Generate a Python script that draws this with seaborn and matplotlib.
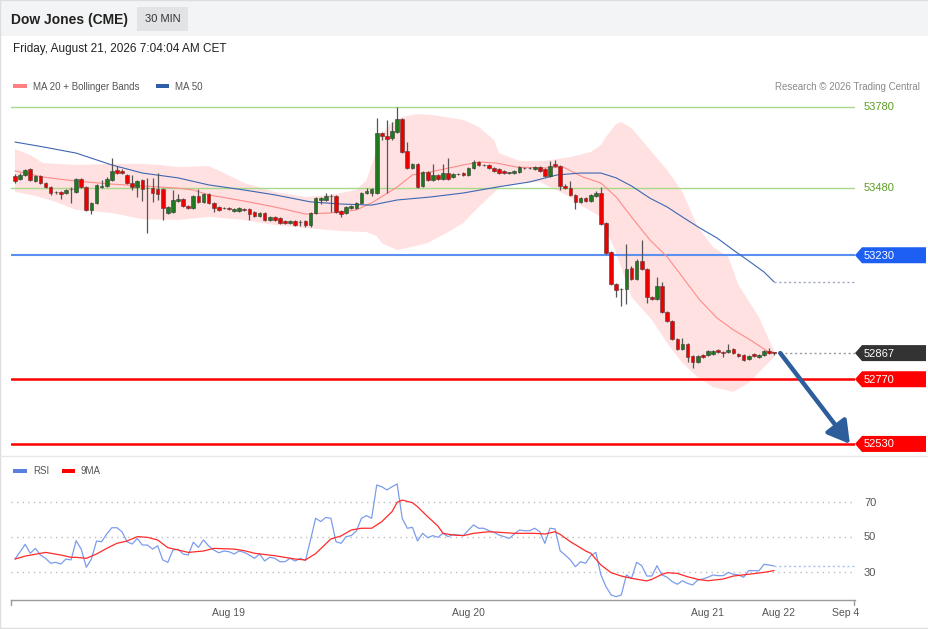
import numpy as np
import pandas as pd
import matplotlib
matplotlib.use("Agg")
import matplotlib.pyplot as plt
import seaborn as sns
from matplotlib.patches import Polygon, Rectangle, FancyArrowPatch
from matplotlib.lines import Line2D

# ---------------- data ----------------
opens = [53524, 53513, 53528, 53550, 53505, 53524, 53498, 53483, 53465, 53465,
         53461, 53476, 53465, 53513, 53483, 53398, 53424, 53485, 53487, 53509,
         53546, 53543, 53528, 53498, 53483, 53509, 53479, 53479, 53476, 53476,
         53387, 53390, 53431, 53439, 53413, 53405, 53450, 53428, 53457, 53424,
         53409, 53405, 53405, 53394, 53394, 53402, 53402, 53390, 53376, 53387,
         53361, 53372, 53368, 53357, 53350, 53357, 53354, 53357, 53342, 53387,
         53435, 53435, 53450, 53450, 53394, 53387, 53405, 53405, 53424, 53461,
         53461, 53461, 53684, 53672, 53665, 53687, 53735, 53617, 53554, 53569,
         53487, 53539, 53509, 53528, 53513, 53535, 53520, 53531, 53535, 53528,
         53554, 53576, 53565, 53565, 53554, 53550, 53543, 53535, 53535, 53539,
         53554, 53552, 53550, 53557, 53550, 53524, 53569, 53561, 53487, 53479,
         53454, 53428, 53442, 53431, 53450, 53461, 53350, 53242, 53123, 53105,
         53105, 53183, 53142, 53209, 53179, 53075, 53068, 53116, 53019, 52986,
         52919, 52882, 52901, 52856, 52834, 52860, 52860, 52864, 52879, 52871,
         52871, 52882, 52864, 52860, 52845, 52864, 52853, 52860, 52875, 52869]
highs = [53531, 53535, 53550, 53554, 53528, 53528, 53502, 53487, 53468, 53468,
         53476, 53483, 53517, 53517, 53487, 53428, 53494, 53509, 53520, 53591,
         53561, 53550, 53531, 53528, 53509, 53513, 53517, 53517, 53535, 53479,
         53413, 53472, 53457, 53442, 53416, 53454, 53476, 53461, 53461, 53428,
         53413, 53409, 53409, 53405, 53409, 53405, 53405, 53394, 53390, 53390,
         53376, 53376, 53372, 53361, 53361, 53361, 53361, 53361, 53390, 53446,
         53446, 53461, 53457, 53454, 53398, 53413, 53416, 53428, 53465, 53479,
         53479, 53739, 53687, 53732, 53724, 53780, 53739, 53650, 53572, 53572,
         53543, 53543, 53569, 53531, 53569, 53591, 53535, 53535, 53539, 53557,
         53583, 53580, 53569, 53569, 53557, 53554, 53546, 53539, 53546, 53561,
         53557, 53557, 53561, 53561, 53554, 53580, 53583, 53565, 53494, 53505,
         53457, 53446, 53446, 53457, 53468, 53483, 53354, 53246, 53127, 53108,
         53272, 53190, 53216, 53287, 53183, 53079, 53149, 53131, 53023, 52990,
         52923, 52923, 52904, 52860, 52860, 52864, 52879, 52879, 52882, 52875,
         52901, 52886, 52867, 52864, 52860, 52867, 52864, 52879, 52886, 52871]
lows = [53498, 53509, 53524, 53505, 53502, 53494, 53479, 53454, 53457, 53439,
        53457, 53424, 53461, 53479, 53394, 53383, 53420, 53479, 53483, 53505,
        53531, 53531, 53494, 53472, 53446, 53431, 53313, 53428, 53435, 53361,
        53383, 53387, 53428, 53409, 53402, 53402, 53424, 53424, 53420, 53390,
        53394, 53402, 53398, 53390, 53390, 53394, 53361, 53372, 53372, 53357,
        53357, 53357, 53346, 53346, 53346, 53339, 53339, 53335, 53335, 53383,
        53420, 53431, 53390, 53387, 53372, 53383, 53402, 53402, 53420, 53457,
        53450, 53457, 53658, 53461, 53658, 53684, 53609, 53550, 53550, 53479,
        53483, 53505, 53505, 53509, 53509, 53509, 53517, 53528, 53524, 53524,
        53550, 53561, 53561, 53550, 53539, 53531, 53531, 53531, 53531, 53535,
        53550, 53550, 53546, 53539, 53520, 53520, 53557, 53472, 53476, 53450,
        53402, 53424, 53428, 53428, 53446, 53342, 53235, 53120, 53075, 53042,
        53049, 53138, 53138, 53176, 53053, 53064, 53064, 53016, 52982, 52916,
        52879, 52879, 52834, 52812, 52830, 52849, 52856, 52860, 52867, 52853,
        52867, 52864, 52853, 52838, 52842, 52853, 52849, 52856, 52864, 52860]
closes = [53505, 53528, 53546, 53509, 53524, 53498, 53483, 53461, 53463, 53457,
          53472, 53474, 53513, 53483, 53398, 53424, 53491, 53487, 53513, 53543,
          53535, 53535, 53498, 53483, 53505, 53476, 53478, 53461, 53457, 53405,
          53409, 53435, 53439, 53413, 53405, 53450, 53428, 53457, 53424, 53405,
          53398, 53404, 53402, 53402, 53405, 53398, 53383, 53376, 53387, 53361,
          53372, 53361, 53350, 53350, 53357, 53342, 53352, 53342, 53387, 53442,
          53442, 53450, 53448, 53390, 53383, 53409, 53413, 53424, 53461, 53468,
          53476, 53684, 53672, 53661, 53691, 53735, 53613, 53554, 53569, 53483,
          53539, 53509, 53528, 53513, 53535, 53513, 53531, 53530, 53528, 53554,
          53576, 53565, 53563, 53554, 53543, 53535, 53535, 53537, 53543, 53557,
          53552, 53554, 53557, 53543, 53524, 53561, 53561, 53487, 53479, 53454,
          53428, 53442, 53431, 53454, 53461, 53346, 53238, 53123, 53101, 53103,
          53179, 53142, 53209, 53179, 53075, 53068, 53116, 53019, 52986, 52919,
          52882, 52901, 52853, 52834, 52856, 52853, 52875, 52875, 52871, 52867,
          52879, 52867, 52856, 52842, 52856, 52856, 52860, 52875, 52867, 52867]

bb_upper_idx = [1, 4, 6.5, 13, 20, 26, 29.5, 33, 39, 42, 46, 52, 58, 63, 68, 70, 72, 73, 75, 77,
                80, 83, 89, 92, 95, 96, 100, 105, 110, 114, 116, 117, 119, 120, 122, 125, 129,
                132, 135, 138, 141, 143, 147, 149, 150]
bb_upper = [53624, 53602, 53572, 53565, 53569, 53569, 53565, 53557, 53561, 53535,
            53498, 53465, 53446, 53454, 53472, 53509, 53620, 53676, 53724, 53743,
            53754, 53750, 53732, 53706, 53658, 53609, 53580, 53580, 53594, 53613,
            53639, 53669, 53717, 53724, 53702, 53635, 53546, 53465, 53335, 53261,
            53224, 53120, 53001, 52916, 52878]
bb_lower_idx = [1, 5, 9, 13, 20, 26, 33, 39, 46, 52, 58, 65, 70, 72, 73, 76, 78, 82, 86, 89,
                92, 95, 96, 100, 104, 108, 110, 112, 116, 119, 122, 126, 129, 132, 135, 138,
                142, 145, 148, 150]
bb_lower = [53465, 53450, 53428, 53398, 53387, 53364, 53361, 53372, 53361, 53342,
            53331, 53320, 53316, 53301, 53275, 53249, 53257, 53275, 53316, 53350,
            53409, 53461, 53483, 53498, 53502, 53465, 53446, 53416, 53372, 53238,
            53075, 52990, 52904, 52830, 52778, 52741, 52723, 52756, 52815, 52852]
ma20_idx = [1, 6.5, 13, 20, 26, 33, 36, 39, 46, 52, 58, 63, 68, 71, 76, 79, 82.5, 89, 92, 95.5,
            99.5, 105, 108.6, 112.5, 116, 119, 122, 125.6, 129, 132, 135.4, 138.8, 142, 145.3,
            148.6, 150.5]
ma20 = [53543, 53520, 53505, 53494, 53487, 53479, 53472, 53454, 53431, 53409,
        53383, 53387, 53398, 53424, 53483, 53528, 53539, 53565, 53576, 53572,
        53557, 53554, 53557, 53520, 53498, 53446, 53372, 53287, 53224, 53149,
        53064, 52997, 52953, 52916, 52875, 52867]
ma50_idx = [1, 6.5, 13, 20, 26, 33, 39, 46, 52, 59, 65, 71, 76, 82.5, 89, 95.6, 102, 107.4,
            112, 116, 119, 122, 125.6, 129, 132, 135.4, 138.8, 142, 145.3, 148, 150]
ma50 = [53650, 53632, 53609, 53565, 53535, 53517, 53491, 53472, 53454, 53428,
        53420, 53416, 53435, 53446, 53461, 53483, 53502, 53528, 53535, 53535,
        53517, 53487, 53442, 53409, 53372, 53331, 53294, 53249, 53205, 53168, 53131]

rsi = [37.4, 41.5, 45.8, 40.7, 43.5, 39.7, 37.8, 35.0, 35.5, 34.6,
       37.4, 36.9, 47.9, 43.0, 32.7, 37.4, 47.7, 47.3, 51.7, 55.3,
       55.3, 53.0, 47.3, 46.0, 49.2, 45.4, 45.4, 43.1, 45.0, 36.9,
       35.5, 42.6, 43.0, 40.3, 39.7, 47.0, 44.1, 48.3, 44.9, 42.6,
       41.0, 42.0, 41.6, 40.3, 42.0, 41.2, 39.7, 37.8, 40.3, 36.3,
       38.4, 37.8, 35.9, 35.9, 37.8, 36.3, 37.8, 36.5, 48.3, 60.7,
       58.8, 61.2, 60.7, 47.3, 46.4, 50.2, 50.8, 53.4, 60.7, 62.2,
       60.7, 79.7, 78.7, 76.9, 78.7, 80.3, 60.7, 55.0, 55.5, 47.7,
       52.1, 49.6, 50.8, 49.8, 52.1, 50.2, 51.5, 51.1, 50.8, 54.0,
       56.9, 55.0, 55.0, 53.6, 52.7, 51.1, 50.2, 49.2, 51.7, 54.0,
       53.6, 53.6, 55.0, 53.0, 46.4, 55.0, 54.6, 42.1, 39.7, 36.9,
       33.0, 35.9, 35.0, 39.3, 41.2, 28.3, 21.6, 16.9, 15.9, 16.9,
       28.3, 26.4, 35.5, 33.6, 27.7, 27.7, 33.6, 28.3, 27.0, 24.5,
       23.0, 25.0, 23.5, 22.6, 25.4, 26.0, 27.0, 28.3, 27.9, 27.9,
       29.8, 28.7, 28.3, 27.0, 30.8, 30.8, 30.6, 34.4, 34.0, 33.4]
rsi_ma_idx = [1, 3, 7, 10, 12, 13, 15, 17, 19, 21, 23, 25, 27, 29, 31, 33, 35, 38, 40, 44,
              46, 48, 52, 56, 58, 60, 63, 65, 67, 69, 71, 73, 75, 76, 77, 79, 80, 82, 84, 85,
              87, 89, 91, 94, 96, 99, 103, 105, 107, 108, 110, 112, 113, 114, 116, 118, 120,
              122, 125, 126, 128, 129, 131, 133, 135, 137, 140, 142, 145, 148, 150]
rsi_ma = [37.4, 39.1, 41.2, 39.7, 38.4, 38.4, 37.8, 40.3, 43.5, 46.4,
          47.7, 50.2, 49.8, 48.3, 43.9, 42.6, 41.2, 42.0, 43.5, 43.1,
          42.2, 40.7, 39.3, 37.4, 36.9, 40.5, 48.9, 50.6, 54.0, 55.0,
          55.0, 58.8, 64.5, 69.8, 71.1, 69.6, 67.3, 61.6, 56.3, 52.1,
          51.1, 50.8, 52.1, 53.0, 52.7, 52.1, 52.1, 51.7, 53.0, 51.5,
          47.3, 43.8, 42.0, 40.7, 34.0, 29.6, 27.7, 26.4, 24.9, 25.8,
          28.7, 29.6, 29.2, 27.3, 25.8, 25.0, 26.0, 27.7, 28.7, 29.8, 30.8]

resistances = [53780, 53480]
pivot = 53230
supports = [52770, 52530]
last_price = 52867
rsi_levels = [70, 50, 30]
date_labels = ["Aug 19", "Aug 20", "Aug 21", "Aug 22", "Sep 4"]
date_pos = [43.0, 89.9, 137.0, 150.95, 164.1]

# ---------------- styling / layout ----------------
sns.set_theme(style="white")
plt.rcParams["font.family"] = ["Liberation Sans", "DejaVu Sans"]

W, H = 929, 629
fig = plt.figure(figsize=(W / 100, H / 100), dpi=100)
fig.patch.set_facecolor("white")


def fx(x):
    return x / W


def fy(y):
    return 1 - y / H


# header band
fig.add_artist(Rectangle((0, fy(36)), 1, 36 / H, transform=fig.transFigure,
                         facecolor="#f3f4f5", edgecolor="none", zorder=0))
fig.add_artist(Rectangle((fx(137), fy(31)), 51 / W, 24 / H, transform=fig.transFigure,
                         facecolor="#e2e3e5", edgecolor="none", zorder=1))
fig.text(fx(11), fy(20), "Dow Jones (CME)", fontsize=10, fontweight="bold",
         color="#222222", va="center", ha="left")
fig.text(fx(162.5), fy(19.5), "30 MIN", fontsize=8, color="#333333", va="center", ha="center")
fig.text(fx(13), fy(49), "Friday, August 21, 2026 7:04:04 AM CET", fontsize=8.5,
         color="#222222", va="center", ha="left")

# legend row
fig.add_artist(Rectangle((fx(13), fy(88)), 14 / W, 4 / H, transform=fig.transFigure,
                         facecolor="#ff8080", edgecolor="none"))
fig.text(fx(33), fy(86.5), "MA 20 + Bollinger Bands", fontsize=7, color="#555555", va="center")
fig.add_artist(Rectangle((fx(156), fy(88)), 13 / W, 4 / H, transform=fig.transFigure,
                         facecolor="#2f5ea8", edgecolor="none"))
fig.text(fx(175), fy(86.5), "MA 50", fontsize=7, color="#555555", va="center")
fig.text(fx(920), fy(86.5), "Research \u00a9 2026 Trading Central", fontsize=7,
         color="#8a8a8a", va="center", ha="right")

# RSI legend
fig.add_artist(Rectangle((fx(13), fy(473)), 14 / W, 4 / H, transform=fig.transFigure,
                         facecolor="#5b7fe0", edgecolor="none"))
fig.text(fx(33), fy(471.5), "RSI", fontsize=7, color="#555555", va="center")
fig.add_artist(Rectangle((fx(62), fy(473)), 13 / W, 4 / H, transform=fig.transFigure,
                         facecolor="#ff0000", edgecolor="none"))
fig.text(fx(81), fy(471.5), "9MA", fontsize=7, color="#555555", va="center")

# separators / border
fig.add_artist(Line2D([0, 1], [fy(456), fy(456)], transform=fig.transFigure,
                      color="#e8e8e8", lw=1))
fig.add_artist(Rectangle((0.0005, 0.0008), 0.999, 0.9985, transform=fig.transFigure,
                         facecolor="none", edgecolor="#dddddd", lw=1))

# x mapping: candle k -> pixel 15 + (k-1)*5.095
step = 5.095
x_left = 1 + (11 - 15) / step
x_right = 1 + (855 - 15) / step

# ---------------- main panel ----------------
ax = fig.add_axes([fx(11), fy(455), (855 - 11) / W, (455 - 95) / H])
ppx = 3.71
ax.set_xlim(x_left, x_right)
ax.set_ylim(53780 - (455 - 107) * ppx, 53780 + (107 - 95) * ppx)
ax.set_facecolor("none")
for s in ax.spines.values():
    s.set_visible(False)
ax.set_xticks([])
ax.set_yticks([])

# Bollinger band fill
poly_x = list(bb_upper_idx) + list(bb_lower_idx[::-1])
poly_y = list(bb_upper) + list(bb_lower[::-1])
ax.fill(poly_x, poly_y, color="#ffe1e1", lw=0, zorder=1)

# level lines
for lv in resistances:
    ax.axhline(lv, color="#a9d88a", lw=1, zorder=2)
ax.axhline(pivot, color="#5b8ff0", lw=1.5, zorder=2)
for lv in supports:
    ax.axhline(lv, color="#ff0000", lw=1.8, zorder=2)

# moving averages
sns.lineplot(x=ma20_idx, y=ma20, ax=ax, color="#ff8a8a", lw=0.8, sort=False,
             estimator=None, zorder=3)
sns.lineplot(x=ma50_idx, y=ma50, ax=ax, color="#3d67b1", lw=0.8, sort=False,
             estimator=None, zorder=3)
ax.plot([ma50_idx[-1], x_right], [ma50[-1], ma50[-1]], color="#9aa6bf", lw=1,
        ls=(0, (1.5, 2)), zorder=3)

# candles
df = pd.DataFrame({"k": np.arange(1, len(closes) + 1), "o": opens, "h": highs,
                   "l": lows, "c": closes})
ax.vlines(df["k"], df["l"], df["h"], color="#555555", lw=0.9, zorder=4)
up = df["c"] >= df["o"]
body_lo = np.minimum(df["o"], df["c"])
body_h = np.maximum(np.abs(df["c"] - df["o"]), 2.5)
ax.bar(df["k"][up], body_h[up], bottom=body_lo[up], width=0.72, color="#1f7a1f",
       edgecolor="#3a3a3a", linewidth=0.4, zorder=5)
ax.bar(df["k"][~up], body_h[~up], bottom=body_lo[~up], width=0.72, color="#ee0000",
       edgecolor="#5a3a3a", linewidth=0.4, zorder=5)

# last price dotted
ax.plot([len(closes) + 1.2, x_right], [last_price, last_price], color="#999999", lw=1,
        ls=(0, (1.5, 2)), zorder=3)

# target arrow
arr = FancyArrowPatch((len(closes) + 1.2, last_price), (x_right - 1.0, supports[-1]),
                      arrowstyle="-|>,head_length=6,head_width=3.5", mutation_scale=2.2,
                      color="#2e5d9c", lw=3.2, zorder=6, shrinkA=0, shrinkB=0)
ax.add_patch(arr)

fig.canvas.draw()


def tag(val, face, txt="white", boxed=True):
    _, yd = ax.transData.transform((0, val))
    yimg = H - yd
    if boxed:
        pts = [(855, yimg), (862, yimg - 8), (926, yimg - 8), (926, yimg + 8), (862, yimg + 8)]
        fig.add_artist(Polygon([(fx(a), fy(b)) for a, b in pts], closed=True,
                               transform=fig.transFigure, facecolor=face, edgecolor="none",
                               zorder=5))
    fig.text(fx(864), fy(yimg + 0.5), f"{val}", fontsize=8, color=txt, va="center", ha="left",
             zorder=6)


for lv in resistances:
    tag(lv, None, txt="#5c9e22", boxed=False)
tag(pivot, "#1d5ff2")
tag(last_price, "#333333")
for lv in supports:
    tag(lv, "#ff0000")

# ---------------- RSI panel ----------------
ax2 = fig.add_axes([fx(11), fy(600), (855 - 11) / W, (600 - 470) / H])
ax2.set_xlim(x_left, x_right)
ax2.set_ylim(50 - (600 - 537) / 1.75, 50 + (537 - 470) / 1.75)
ax2.set_facecolor("none")
for name, s in ax2.spines.items():
    s.set_visible(name == "bottom")
ax2.spines["bottom"].set_color("#9a9a9a")
ax2.spines["bottom"].set_linewidth(1)
for lv in rsi_levels:
    ax2.axhline(lv, color="#bdbdbd", lw=1, ls=(0, (1, 3)), zorder=1)
ax2.set_yticks([])
ax2.set_xticks(date_pos)
ax2.set_xticklabels(date_labels, fontsize=7.5, color="#555555")
ax2.tick_params(axis="x", length=0, pad=6)

# end ticks of the time axis
for xe in (fx(11.5), fx(854.5)):
    fig.add_artist(Line2D([xe, xe], [fy(600), fy(605)], transform=fig.transFigure,
                          color="#9a9a9a", lw=1))

k_all = np.arange(1, len(rsi) + 1)
sns.lineplot(x=k_all, y=rsi, ax=ax2, color="#7b9cec", lw=0.9, sort=False,
             estimator=None, zorder=3)
sns.lineplot(x=rsi_ma_idx, y=rsi_ma, ax=ax2, color="#ff2a2a", lw=0.9, sort=False,
             estimator=None, zorder=3)
ax2.plot([len(rsi), x_right], [rsi[-1], rsi[-1]], color="#a8bdf0", lw=1,
         ls=(0, (1.5, 2)), zorder=2)

fig.canvas.draw()
for lv in rsi_levels:
    _, yd = ax2.transData.transform((0, lv))
    fig.text(fx(864), (yd - 0.5) / H, str(lv), fontsize=8, color="#555555", va="center",
             ha="left")

fig.savefig("out.png", dpi=100)
